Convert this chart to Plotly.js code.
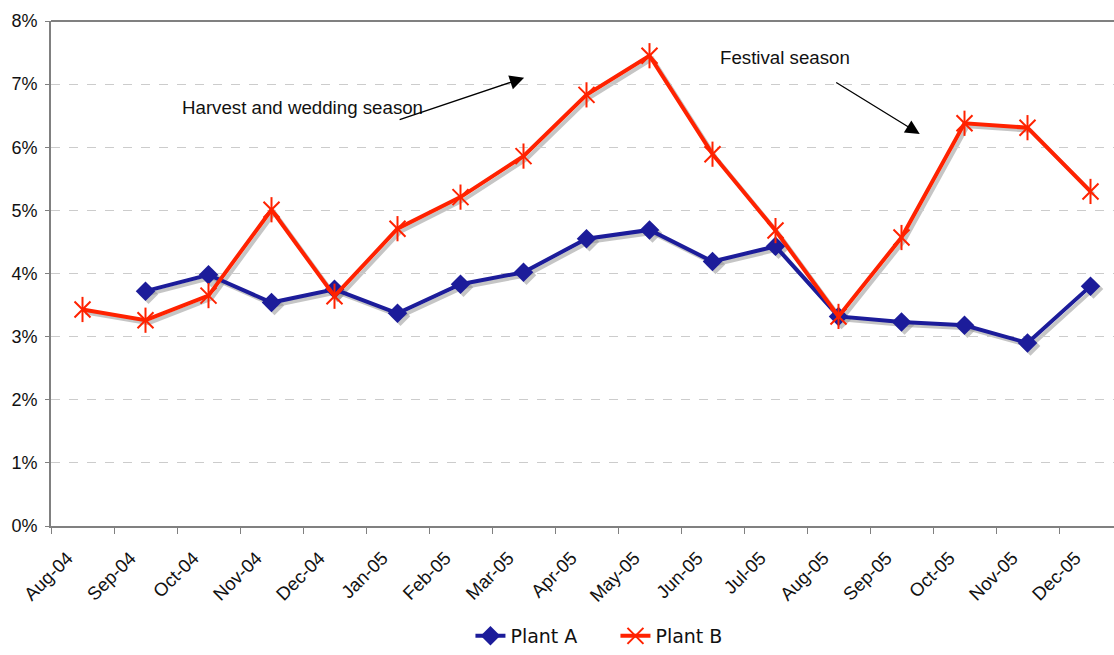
<!DOCTYPE html>
<html>
<head>
<meta charset="utf-8">
<script src="https://cdn.plot.ly/plotly-3.0.1.min.js"></script>
<style>html,body{margin:0;padding:0;overflow:hidden;background:#fff;}</style>
</head>
<body>
<div id="chart" style="width:1114px;height:655px;"></div>
<script>
var months = ["Aug-04","Sep-04","Oct-04","Nov-04","Dec-04","Jan-05","Feb-05","Mar-05","Apr-05","May-05","Jun-05","Jul-05","Aug-05","Sep-05","Oct-05","Nov-05","Dec-05"];
var plantA = [null,3.72,3.98,3.54,3.75,3.37,3.83,4.02,4.55,4.69,4.19,4.43,3.32,3.23,3.18,2.90,3.80];
var plantB = [3.43,3.26,3.65,5.01,3.64,4.71,5.21,5.86,6.83,7.45,5.89,4.68,3.32,4.57,6.38,6.31,5.30];
var yTicks = [0,1,2,3,4,5,6,7,8];
var yTickLabels = ["0%","1%","2%","3%","4%","5%","6%","7%","8%"];

var blue = "#1c1c9a";
var red = "#ff2200";
var shadow = "rgba(150,150,150,0.55)";

var traces = [
  // shadows (hidden, slightly offset axes: x / y)
  {x: months, y: plantA, xaxis:"x", yaxis:"y", mode:"lines+markers", showlegend:false, hoverinfo:"skip",
   line:{color:shadow, width:4}, marker:{symbol:"diamond", size:15, color:shadow}},
  {x: months, y: plantB, xaxis:"x", yaxis:"y", mode:"lines", showlegend:false, hoverinfo:"skip",
   line:{color:shadow, width:4}},
  // main (visible axes: x2 / y2)
  {x: months, y: plantA, xaxis:"x2", yaxis:"y2", name:"Plant A", mode:"lines+markers",
   line:{color:blue, width:4}, marker:{symbol:"diamond", size:15, color:blue}},
  {x: months, y: plantB, xaxis:"x2", yaxis:"y2", name:"Plant B", mode:"lines+markers",
   line:{color:red, width:4}, marker:{symbol:"x-thin-open", size:16, color:red, line:{color:red, width:2}}},
  {x: months, y: plantB, xaxis:"x2", yaxis:"y2", mode:"markers", showlegend:false, hoverinfo:"skip",
   marker:{symbol:"line-ns-open", size:18, color:red, line:{color:red, width:2}}}
];

var W = 1063, H = 508;
var layout = {
  width:1114, height:655,
  margin:{l:51, r:0, t:21, b:126},
  paper_bgcolor:"#fff", plot_bgcolor:"rgba(0,0,0,0)",
  font:{family:"Liberation Sans, Arial, sans-serif", color:"#111"},
  showlegend:true,
  legend:{orientation:"h", x:0.531, xanchor:"center", y:-0.218, yanchor:"middle",
          font:{family:"DejaVu Sans, Verdana, sans-serif", size:19, color:"#111"},
          traceorder:"normal", entrywidth:100},
  xaxis:{type:"category", domain:[3/W, 1], range:[-0.5, -0.5 + (W-3)/63], anchor:"y",
         visible:false, fixedrange:true},
  yaxis:{domain:[0, 1-3/H], range:[3/63.5, 8], anchor:"x", visible:false, fixedrange:true},
  xaxis2:{type:"category", domain:[0,1], range:[-0.5, -0.5 + W/63], anchor:"y2",
         tickangle:-45, tickson:"boundaries",
         ticks:"outside", ticklen:6, tickcolor:"#808080", showgrid:false,
         showline:true, linecolor:"#808080", linewidth:2,
         ticklabelstandoff:12, ticklabelshift:-15,
         tickfont:{size:18.5, color:"#111"}, fixedrange:true, zeroline:false},
  yaxis2:{domain:[0,1], range:[0,8], anchor:"x2", tickvals:yTicks, ticktext:yTickLabels,
         ticks:"outside", ticklen:4, ticklabelstandoff:4,
         tickcolor:"#808080", showline:true, linecolor:"#808080", linewidth:2,
         showgrid:true, gridcolor:"#cccccc", griddash:"dash", gridwidth:1,
         zeroline:false, tickfont:{size:18, color:"#111"}, fixedrange:true},
  shapes:[
    {type:"line", xref:"paper", yref:"paper", x0:0, x1:1, y0:1, y1:1, line:{color:"#808080", width:2}}
  ],
  annotations:[
    {x:3.49, y:6.63, xref:"x2", yref:"y2", text:"Harvest and wedding season", showarrow:false,
     font:{size:18.7, color:"#111"}},
    {x:11.15, y:7.42, xref:"x2", yref:"y2", text:"Festival season", showarrow:false,
     font:{size:18.7, color:"#111"}},
    {x:7.01, y:7.10, ax:5.01, ay:6.43, xref:"x2", yref:"y2", axref:"x2", ayref:"y2", text:"",
     showarrow:true, arrowhead:2, arrowsize:2.2, arrowwidth:1.3, arrowcolor:"#000"},
    {x:13.29, y:6.21, ax:11.94, ay:7.04, xref:"x2", yref:"y2", axref:"x2", ayref:"y2", text:"",
     showarrow:true, arrowhead:2, arrowsize:2.2, arrowwidth:1.3, arrowcolor:"#000"}
  ]
};

Plotly.newPlot("chart", traces, layout, {displayModeBar:false, staticPlot:true});
</script>
</body>
</html>
